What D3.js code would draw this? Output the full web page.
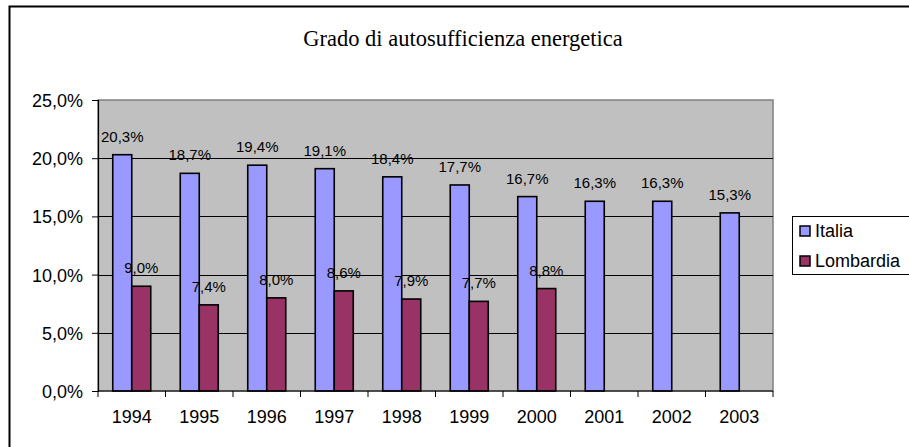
<!DOCTYPE html>
<html>
<head>
<meta charset="utf-8">
<script src="https://cdn.jsdelivr.net/npm/d3@7"></script>
<style>
  body { margin: 0; background: #fff; }
  svg { display: block; font-family: Arial, "Liberation Sans", sans-serif; }
</style>
</head>
<body>
<div id="chart"></div>
<script>
let width = 909,
    height = 447,
    margin = ({ top: 100, right: 136, bottom: 56, left: 98 });

// data
const years = ["1994", "1995", "1996", "1997", "1998", "1999", "2000", "2001", "2002", "2003"];
const italia = [20.3, 18.7, 19.4, 19.1, 18.4, 17.7, 16.7, 16.3, 16.3, 15.3];
const lombardia = [9.0, 7.4, 8.0, 8.6, 7.9, 7.7, 8.8, null, null, null];
const seriesNames = ["Italia", "Lombardia"];
const yTicks = [0, 5, 10, 15, 20, 25];

const colors = ["#9999FF", "#993366"];
const color = d3.scaleOrdinal().domain(seriesNames).range(colors);

const svg = d3.select("#chart")
  .append("svg")
  .attr("width", width)
  .attr("height", height);

// outer chart frame (cropped at right and bottom)
svg.append("rect")
  .attr("x", 9.5).attr("y", 6.5)
  .attr("width", 940).attr("height", 480)
  .attr("fill", "none")
  .attr("stroke", "#000")
  .attr("stroke-width", 2);

svg.append("text")
  .attr("x", 463)
  .attr("y", 46)
  .attr("text-anchor", "middle")
  .style("font-family", "'Liberation Serif', 'Times New Roman', serif")
  .style("font-size", "22.5px")
  .text("Grado di autosufficienza energetica");

let x = d3.scaleBand()
  .domain(years)
  .range([margin.left, width - margin.right]);

let xSub = d3.scaleBand()
  .domain(seriesNames)
  .range([0, x.bandwidth()])
  .paddingOuter(0.776);

let y = d3.scaleLinear()
  .domain([0, 25])
  .range([height - margin.bottom, margin.top]);

// plot area
svg.append("rect")
  .attr("x", margin.left)
  .attr("y", margin.top)
  .attr("width", width - margin.left - margin.right)
  .attr("height", y(0) - margin.top)
  .attr("fill", "#C0C0C0")
  .attr("stroke", "#808080")
  .attr("stroke-width", 1.5);

// gridlines
svg.append("g")
  .selectAll("line")
  .data(yTicks.filter(d => d > 0 && d < 25))
  .join("line")
  .attr("x1", margin.left)
  .attr("x2", width - margin.right)
  .attr("y1", d => Math.round(y(d)) + 0.5)
  .attr("y2", d => Math.round(y(d)) + 0.5)
  .attr("stroke", "#000")
  .attr("stroke-width", 1);

// bars
let table = years.map((yr, i) => ({ year: yr, values: [italia[i], lombardia[i]] }));

let groups = svg.append("g")
  .selectAll("g")
  .data(table)
  .join("g")
  .attr("transform", d => `translate(${x(d.year)},0)`);

groups.selectAll("rect")
  .data(d => d.values.map((v, j) => ({ name: seriesNames[j], value: v })).filter(d => d.value != null))
  .join("rect")
  .attr("x", d => xSub(d.name))
  .attr("y", d => y(d.value))
  .attr("width", xSub.bandwidth())
  .attr("height", d => y(0) - y(d.value))
  .attr("fill", d => color(d.name))
  .attr("stroke", "#000")
  .attr("stroke-width", 1.6);

groups.selectAll("text")
  .data(d => d.values.map((v, j) => ({ name: seriesNames[j], value: v })).filter(d => d.value != null))
  .join("text")
  .attr("x", d => xSub(d.name) + xSub.bandwidth() / 2)
  .attr("y", d => y(d.value) - 13)
  .attr("text-anchor", "middle")
  .style("font-size", "15px")
  .attr("fill", "#000")
  .text(d => d.value.toFixed(1).replace(".", ",") + "%");

// axes
let xAxis = svg.append("g")
  .attr("transform", `translate(0,${y(0)})`);
xAxis.append("line")
  .attr("x1", margin.left).attr("x2", width - margin.right)
  .attr("stroke", "#000").attr("stroke-width", 1.2);
xAxis.selectAll(".tick")
  .data(years.concat(["end"]))
  .join("line")
  .attr("x1", (d, i) => margin.left + i * x.step())
  .attr("x2", (d, i) => margin.left + i * x.step())
  .attr("y1", 0).attr("y2", 6)
  .attr("stroke", "#000");
xAxis.selectAll("text")
  .data(years)
  .join("text")
  .attr("x", d => x(d) + x.bandwidth() / 2)
  .attr("y", 32)
  .attr("text-anchor", "middle")
  .style("font-size", "18px")
  .text(d => d);

svg.append("g")
  .attr("transform", `translate(${margin.left},0)`)
  .call(d3.axisLeft(y)
    .tickValues(yTicks)
    .tickSize(6)
    .tickPadding(9)
    .tickFormat(d => d.toFixed(1).replace(".", ",") + "%"))
  .call(g => g.select(".domain").attr("stroke-width", 1.2))
  .call(g => g.selectAll("text").style("font-size", "18px").attr("fill", "#000")
    .attr("dy", "0.36em")
    .style("font-family", "Arial, 'Liberation Sans', sans-serif"));

// legend
let legend = svg.append("g");
legend.append("rect")
  .attr("x", 792.5).attr("y", 216.5)
  .attr("width", 130).attr("height", 58)
  .attr("fill", "#fff")
  .attr("stroke", "#000")
  .attr("stroke-width", 1);

seriesNames.forEach((name, i) => {
  legend.append("rect")
    .attr("x", 800).attr("y", 226 + i * 30)
    .attr("width", 10).attr("height", 10)
    .attr("fill", color(name))
    .attr("stroke", "#000")
    .attr("stroke-width", 1.5);
  legend.append("text")
    .attr("x", 815).attr("y", 237 + i * 30)
    .style("font-size", "18px")
    .text(name);
});
</script>
</body>
</html>
